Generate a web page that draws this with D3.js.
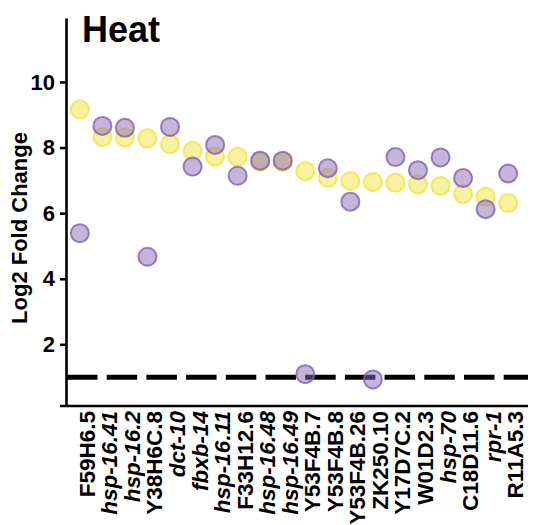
<!DOCTYPE html>
<html>
<head>
<meta charset="utf-8">
<script src="https://cdn.jsdelivr.net/npm/d3@7"></script>
<style>
  body { margin: 0; background: #fff; }
  text { font-family: "Liberation Sans", Arial, sans-serif; font-weight: bold; }
</style>
</head>
<body>
<div id="chart"></div>
<script>
// gene names on the x axis
const genes = ["F59H6.5", "hsp-16.41", "hsp-16.2", "Y38H6C.8", "dct-10", "fbxb-14",
    "hsp-16.11", "F33H12.6", "hsp-16.48", "hsp-16.49", "Y53F4B.7", "Y53F4B.8",
    "Y53F4B.26", "ZK250.10", "Y17D7C.2", "W01D2.3", "hsp-70", "C18D11.6", "rpr-1", "R11A5.3"];
// which names are set in italics
const italicGenes = ["hsp-16.41", "hsp-16.2", "dct-10", "fbxb-14", "hsp-16.11",
    "hsp-16.48", "hsp-16.49", "hsp-70", "rpr-1"];

// yellow series
const yellowValues = [9.16, 8.32, 8.31, 8.28, 8.1, 7.9, 7.73, 7.72, 7.57, 7.56,
    7.28, 7.08, 6.98, 6.95, 6.93, 6.87, 6.83, 6.58, 6.5, 6.31];
// purple series
const purpleValues = [5.39, 8.66, 8.6, 4.67, 8.63, 7.42, 8.08, 7.14, 7.6, 7.6,
    1.09, 7.37, 6.35, 0.93, 7.71, 7.31, 7.7, 7.07, 6.12, 7.21];

const yTicks = [2, 4, 6, 8, 10];
const threshold = 1;

const width = 534,
    height = 525;

const svg = d3.select("#chart")
    .append("svg")
    .attr("width", width)
    .attr("height", height);

const axisX = 66,
    axisY = 406;

const y = d3.scaleLinear()
    .domain([0.12, 11.95])
    .range([axisY, 18]);

const x = d3.scalePoint()
    .domain(genes)
    .range([60, 528])
    .padding(0.88);

// y axis
const yAxis = svg.append("g")
    .attr("transform", `translate(${axisX},0)`)
    .call(d3.axisLeft(y).tickValues(yTicks).tickSize(6).tickPadding(5).tickSizeOuter(0));
yAxis.select(".domain").attr("stroke", "#000").attr("stroke-width", 2.6);
yAxis.selectAll(".tick line").attr("stroke", "#000").attr("stroke-width", 2.6);
yAxis.selectAll(".tick text")
    .attr("fill", "#000")
    .style("font-size", "22px")
    .style("font-family", "Liberation Sans, Arial, sans-serif")
    .style("font-weight", "bold");

// x axis line (no ticks)
svg.append("line")
    .attr("x1", 60).attr("x2", 528)
    .attr("y1", axisY).attr("y2", axisY)
    .attr("stroke", "#000")
    .attr("stroke-width", 2.6);

// x labels
svg.append("g")
    .selectAll("text")
    .data(genes)
    .join("text")
    .attr("transform", d => `translate(${x(d) + 15},${axisY + 5}) rotate(-90)`)
    .attr("text-anchor", "end")
    .style("font-size", "22.5px")
    .style("font-style", d => italicGenes.includes(d) ? "italic" : "normal")
    .text(d => d);

// dashed threshold line
svg.append("line")
    .attr("x1", axisX + 1).attr("x2", 528)
    .attr("y1", y(threshold)).attr("y2", y(threshold))
    .attr("stroke", "#000")
    .attr("stroke-width", 5)
    .attr("stroke-dasharray", "30.5,9.2");

// points
const r = 9;
svg.append("g")
    .selectAll("circle")
    .data(yellowValues)
    .join("circle")
    .attr("cx", (d, i) => x(genes[i]))
    .attr("cy", d => y(d))
    .attr("r", r)
    .attr("fill", "rgba(240,228,66,0.5)")
    .attr("stroke", "rgba(240,228,66,0.8)")
    .attr("stroke-width", 2);

svg.append("g")
    .selectAll("circle")
    .data(purpleValues)
    .join("circle")
    .attr("cx", (d, i) => x(genes[i]))
    .attr("cy", d => y(d))
    .attr("r", r)
    .attr("fill", "rgba(142,107,184,0.5)")
    .attr("stroke", "rgba(130,95,175,0.8)")
    .attr("stroke-width", 2);

// y title
svg.append("text")
    .attr("transform", "translate(27,228) rotate(-90)")
    .attr("text-anchor", "middle")
    .style("font-size", "22px")
    .text("Log2 Fold Change");

// title
svg.append("text")
    .attr("x", 82)
    .attr("y", 42)
    .style("font-size", "36px")
    .text("Heat");
</script>
</body>
</html>
